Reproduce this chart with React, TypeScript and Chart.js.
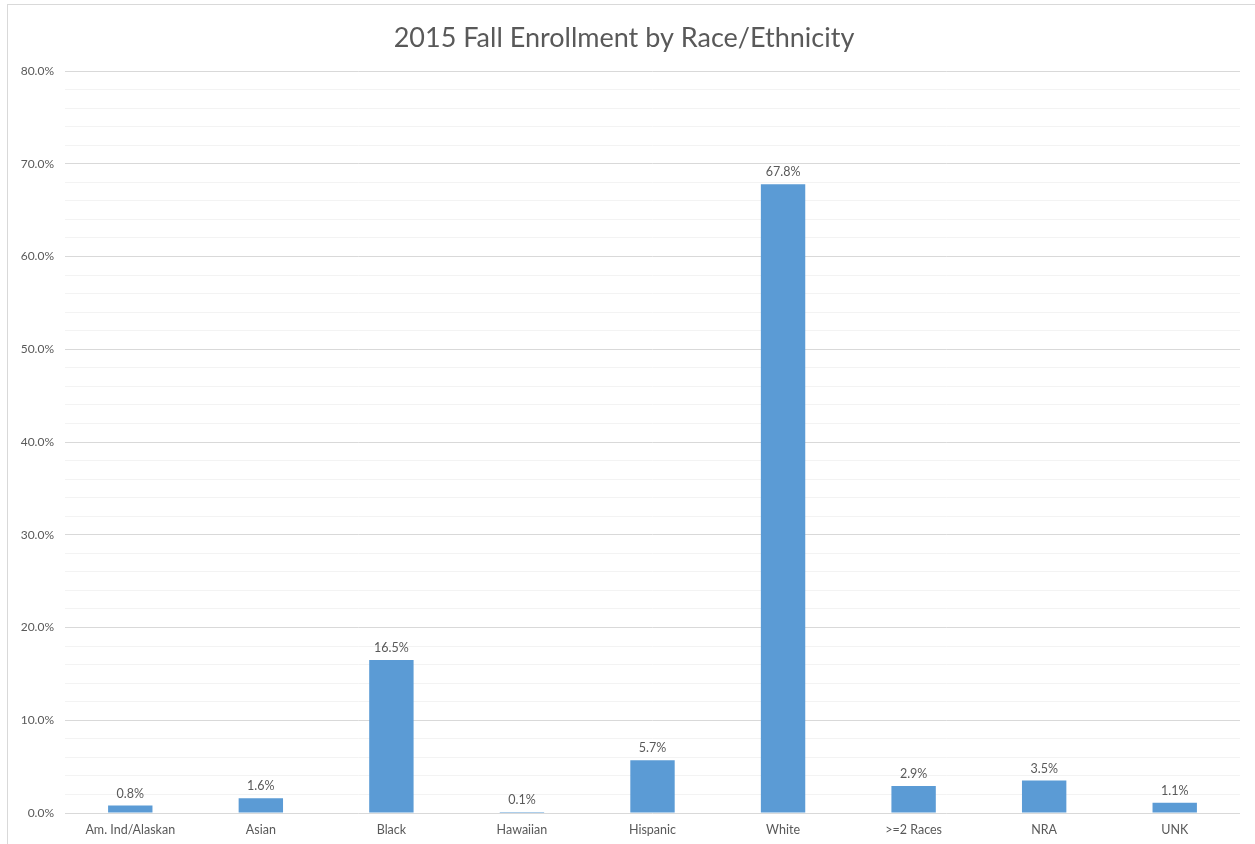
import React, { useEffect, useRef } from "react";
import { Chart, registerables } from "chart.js";

Chart.register(...registerables);

const categories = ["Am. Ind/Alaskan", "Asian", "Black", "Hawaiian", "Hispanic", "White", ">=2 Races", "NRA", "UNK"];
const values = [0.8, 1.6, 16.5, 0.1, 5.7, 67.8, 2.9, 3.5, 1.1];
const titleText = "2015 Fall Enrollment by Race/Ethnicity";

const FONT = "Lato, 'Open Sans', sans-serif";
const TEXT = "#595959";

const frame = {
  id: "frame",
  beforeDraw(chart: any) {
    const c = chart.ctx;
    c.save();
    c.fillStyle = "#ffffff";
    c.fillRect(0, 0, chart.width, chart.height);
    c.strokeStyle = "#d9d9d9";
    c.lineWidth = 1;
    c.strokeRect(7.5, 4.5, chart.width + 20, chart.height + 20);
    c.restore();
  },
};

const labelsPlugin = {
  id: "valueLabels",
  afterDatasetsDraw(chart: any) {
    const c = chart.ctx;
    const meta = chart.getDatasetMeta(0);
    c.save();
    c.font = `12.5px ${FONT}`;
    c.fillStyle = TEXT;
    c.textAlign = "center";
    c.textBaseline = "alphabetic";
    meta.data.forEach((el: any, i: number) => {
      c.fillText(values[i].toFixed(1) + "%", el.x, el.y - 8);
    });
    c.restore();
  },
};

export default function App() {
  const ref = useRef<HTMLCanvasElement>(null);
  useEffect(() => {
    const chart = new Chart(ref.current!, {
      type: "bar",
      data: {
        labels: categories,
        datasets: [
          {
            data: values,
            backgroundColor: "#5B9BD5",
            borderWidth: 0,
            categoryPercentage: 1,
            barPercentage: 0.34,
          },
        ],
      },
      options: {
        animation: false,
        responsive: false,
        devicePixelRatio: 1,
        layout: { padding: { left: 8, right: 15, top: 5, bottom: 0 } },
        plugins: {
          legend: { display: false },
          tooltip: { enabled: false },
          title: {
            display: true,
            text: titleText,
            color: TEXT,
            font: { family: FONT, size: 27, weight: "normal", lineHeight: 1.2 },
            padding: { top: 17, bottom: 16.6 },
          },
        },
        scales: {
          x: {
            grid: { display: false, drawTicks: false },
            border: { display: false },
            ticks: { color: TEXT, font: { family: FONT, size: 12.5 }, padding: 9, maxRotation: 0, autoSkip: false },
            afterFit: (s: any) => { s.height = 31; },
          },
          y: {
            min: 0,
            max: 80,
            border: { display: false },
            grid: {
              drawTicks: false,
              color: (ctx: any) => (ctx.tick && Math.round(ctx.tick.value) % 10 === 0 ? "#d9d9d9" : "#f3f3f3"),
            },
            ticks: {
              stepSize: 2,
              color: TEXT,
              padding: 11,
              font: { family: FONT, size: 12 },
              callback: (v: any) => (Math.round(v) % 10 === 0 ? Number(v).toFixed(1) + "%" : ""),
            },
            afterFit: (s: any) => { s.width = 57; },
          },
        },
      },
      plugins: [frame, labelsPlugin],
    } as any);
    return () => chart.destroy();
  }, []);
  return (
    <div style={{ position: "absolute", left: 0, top: 0, width: 1255, height: 844 }}>
      <canvas ref={ref} width={1255} height={844} style={{ display: "block" }} />
    </div>
  );
}
